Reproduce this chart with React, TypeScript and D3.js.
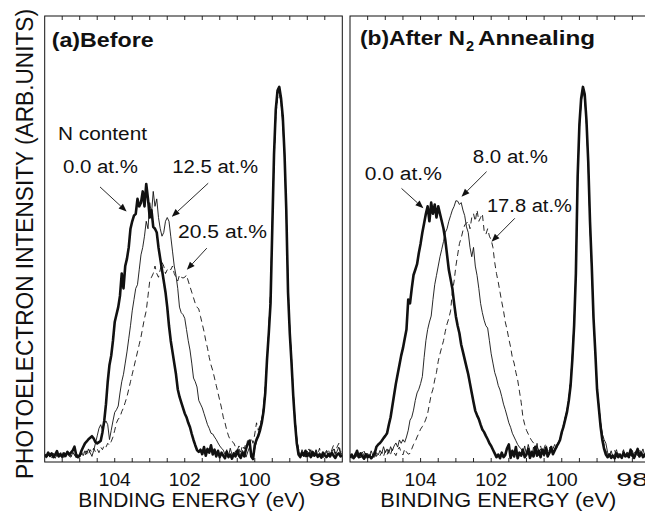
import React from 'react';
import * as d3 from 'd3';

// ---------- DATA ----------
// binding energy grid (eV), 0.05 eV steps from 106 to 97.5
const ENERGY: number[] = d3.range(171).map((i) => +(106 - 0.05 * i).toFixed(2));

// (a) Before — intensities (arb. units)
const A_N00 = [
  1.5,1.0,2.0,1.2,1.8,0.8,1.5,2.4,1.0,1.6,
  0.9,1.8,1.2,2.2,1.5,2.0,2.6,3.6,1.4,0.8,
  1.2,2.5,3.5,4.5,5.0,5.6,6.0,6.4,5.8,4.8,
  4.5,4.8,5.2,7.5,10.5,15,21,25.5,28,32,
  37,39,41,44,50,46,52,54,57,62,
  64,65.5,66,70,68,69,72,68,74,70,
  65,67,62.5,62,61,57,54,51,48,45,
  41,36,32,29,26,23,19,17,15.5,14,
  12.5,11.5,10,8.8,7,5.4,4,2.7,2.2,2.8,
  1.6,3.5,1.2,3.0,2.0,4.0,1.5,2.8,1.0,2.5,
  0.8,2.0,1.2,0.5,2.2,0.8,1.5,0.4,1.8,1.0,
  2.5,1.2,0.6,2.0,1.0,3.0,4.5,5.2,1.0,0.3,
  4.0,5.5,6.5,8,10,13,18,27,34,42,
  62,82,94,99,100,97,92,82,67,45,
  34,26,17,10,4.5,1.5,0.8,2.0,1.2,2.5,
  1.0,1.8,0.8,2.2,1.2,1.8,0.9,1.5,0.7,2.0,
  1.3,0.8,1.6,1.0,2.0,1.2,0.6,1.5,1.8,1.0,
  1.4,
];
const A_N125 = [
  1.0,0.6,1.4,0.8,1.8,1.0,0.5,1.5,0.9,2.0,
  1.2,0.7,1.6,2.4,1.0,0.8,2.0,1.4,0.6,1.5,
  1.0,1.8,1.2,2.5,1.6,3.0,2.0,1.0,2.6,4.5,
  6.5,8.5,9.5,8.0,9.8,10.5,9.5,5.5,8.0,10.5,
  12.8,13.5,14.5,18,21,23,26,29,32.5,36,
  40,43,46,47,51,55,57,60,64,62,
  69,66,72,68,70,65,62,60,61,64,
  65,64,60,56,52,49.5,46,41,39.5,39,
  38,35,32,29.5,26,22,21,19.6,16,15,
  14,12.5,11,9.5,8.5,7.2,7.0,6.2,5.5,4.6,
  3.8,3.2,2.7,1.5,2.8,1.0,3.2,1.5,0.8,2.5,
  1.4,3.0,1.0,2.6,1.8,0.8,2.2,3.5,2.0,1.2,
  3.0,5.0,7.0,9,11,14,19,26,35,44,
  63,81,93,98,99,96,90,81,66,46,
  35,27,18,11,5.5,2.5,1.2,2.8,1.5,0.8,
  2.4,1.2,2.8,1.0,1.8,2.6,1.0,2.0,1.4,0.6,
  1.8,2.6,1.0,1.5,2.2,3.0,1.5,2.4,3.5,1.6,
  2.0,
];
const A_N205 = [
  1.2,0.8,1.5,1.0,0.6,1.8,1.2,0.9,1.6,1.0,
  2.0,1.4,0.7,1.2,1.8,1.0,2.2,1.5,0.8,1.3,
  1.0,1.6,2.0,1.2,2.5,1.5,2.8,2.0,3.2,2.2,
  3.0,2.0,3.5,2.8,4.0,3.5,4.5,4.0,5.0,6.2,
  8.0,10,11,11.5,13,14,15.5,17,19,21,
  23,25,27,29,31,33,35.5,38,40,44,
  48,49,50,52,50,49,51,53,52,50,
  51,51.5,51,52,50,49,48,49.6,49,48.8,
  49,49.6,48,46.5,45,43.5,42,41,40.5,38.5,
  36.5,34.5,32,30,27.5,25.5,24,22,20,18,
  16,14,11.5,10,8,6.5,5.4,5.0,4.6,3.5,
  2.7,3.8,2.2,4.0,3.0,4.8,5.2,3.5,6.0,4.5,
  7.0,10,8.0,9.5,11,14,20,27,35,45,
  62,80,92,97,98,96,91,82,67,47,
  35,27,18,11,6,3,2,1.2,2.5,1.0,
  2.0,3.0,1.4,2.2,1.0,2.8,1.6,3.2,1.0,2.4,
  1.5,2.0,3.0,1.2,2.8,4.0,1.8,3.5,4.5,2.0,
  3.0,
];

// (b) After N2 annealing
const B_N00 = [
  0.8,1.5,0.5,1.2,2.5,0.8,1.8,1.0,0.4,1.6,
  0.8,1.2,0.5,1.0,1.8,3.6,4.2,4.6,5.2,5.9,
  6.5,7.2,9.5,11.5,14.5,17.5,20.5,23,25.5,28,
  30,32.5,35,43,42,46,49.6,51,52.5,55.5,
  58,61,63.5,66,68,64,69,66,68.5,65,
  68,66,64,62,59,55,51,48.5,46,42,
  38.5,36,34,31,29,27,25,23,20.5,18,
  15.5,13.2,12,11,9.5,8.2,7.5,6.5,5.6,4.5,
  3.8,2.8,1.8,0.8,1.5,0.5,2.0,0.8,1.4,3.2,
  4.2,0.6,2.5,1.0,3.5,0.5,2.0,1.2,2.8,0.8,
  1.5,3.0,0.6,2.2,1.0,3.6,1.2,2.5,0.8,2.8,
  1.5,3.2,1.0,2.0,3.5,1.6,2.6,3.6,4.4,5.4,
  7.5,9,11,13,16,20,27,36,50,76,
  90,97,100,98,91,80,64,52,38,29,
  19,14,9,5.4,3,1.5,0.8,1.5,0.6,1.2,
  0.5,1.8,0.8,1.4,0.6,2.0,1.0,1.6,0.8,2.8,
  1.2,0.6,1.8,3.0,1.0,2.0,0.8,1.5,0.6,1.2,
  0.8,
];
const B_N80 = [
  0.5,1.2,0.8,2.0,1.0,0.6,1.5,2.2,1.0,0.5,
  1.8,1.0,2.5,1.2,0.8,2.0,1.4,2.6,1.8,3.6,
  2.0,3.0,1.8,3.6,2.5,3.8,4.6,3.5,5.4,4.5,
  5.5,4.8,6.2,8.0,10.7,11.5,13.4,16,18,19,
  20.5,22.4,27.5,32,35,37,38.6,43,47,49.5,
  52,54.5,56.5,58.6,61,62,64,65.5,67,68,
  69.5,69.4,68.5,69,67,65.5,62.5,61,57,54.5,
  57,52,49.5,46,42,39.5,37.5,36,35.4,32,
  28.5,26,23.5,22,20,18.8,17,15,13.5,11.8,
  10,8.8,7.2,6.2,5.2,4.2,3.5,3.0,2.0,3.8,
  1.5,4.2,2.4,1.0,3.5,2.0,4.5,1.2,3.0,2.2,
  1.0,3.6,2.0,1.4,3.2,2.0,3.0,4.0,4.8,5.6,
  7.0,9.5,11.5,13.5,16.5,21,28,37,50,75,
  89,96,99,97,90,79,63,51,38,29,
  19.5,14.5,10,7,5.5,4.5,2.0,1.2,2.5,0.8,
  1.6,2.8,1.0,1.8,0.6,2.2,1.4,0.8,2.0,1.2,
  2.6,1.0,1.6,2.4,0.8,1.8,3.0,1.2,2.0,1.0,
  1.5,
];
const B_N178 = [
  1.0,0.5,1.8,0.8,1.2,2.0,0.6,1.4,2.4,1.0,
  1.6,0.8,2.0,1.2,2.8,1.0,1.8,1.2,2.2,1.0,
  2.5,1.4,2.8,1.6,3.0,2.0,1.2,2.6,3.5,2.0,
  1.4,3.0,2.2,1.6,1.8,3.0,4.2,5.0,6.2,7.2,
  8.3,9.0,9.8,11,12.5,15,17.5,19,21.5,23.5,
  26.5,28.5,30.3,32,34.5,36.5,38,40,45,48,
  52,55,58,59.5,61.5,63,63.5,64,62,65,
  66,64,67,64,65,66,61.5,60.5,62,60,
  59,57,53,50,47.7,45,42.4,40,37,35,
  32.5,30.3,27.5,26,23.5,21.5,18.5,15.5,11.5,9.5,
  8,7.0,6.0,5.2,4.6,4.0,3.6,2.5,3.8,2.0,
  3.2,4.5,2.5,3.6,2.0,3.0,4.2,3.0,4.6,5.8,
  7.2,9.5,11.5,13.5,16.5,21,28,37,50,75,
  89,96,99,97,90,79,63,51,38,29,
  19.5,14.5,10,6.5,4.0,2.5,1.5,2.2,1.0,1.8,
  2.6,1.2,2.0,0.8,1.6,2.8,1.0,2.2,1.4,2.8,
  1.0,1.8,2.5,1.2,3.0,1.6,2.2,1.0,2.4,1.5,
  2.0,
];

const X_TICK_LABELS = [104, 102, 100, 98];
const X_MINOR_TICKS = d3.range(16).map((i) => 105.5 - 0.5 * i);
const SERIES_LABELS_A = ['0.0 at.%', '12.5 at.%', '20.5 at.%'];
const SERIES_LABELS_B = ['0.0 at.%', '8.0 at.%', '17.8 at.%'];
const Y_TITLE = 'PHOTOELECTRON INTENSITY (ARB.UNITS)';
const X_TITLE = 'BINDING ENERGY (eV)';

// ---------- LAYOUT ----------
const W = 645;
const H = 513;
const TOP = 16;
const BOTTOM = 462;
const FONT = "'Liberation Sans', Arial, Helvetica, sans-serif";
const INK = '#111';

const yScale = d3.scaleLinear().domain([-0.5, 119]).range([BOTTOM, TOP]);

const STYLES = [
  { width: 2.6, dash: null as string | null },
  { width: 0.9, dash: null as string | null },
  { width: 0.9, dash: '6,4' },
];

type Ann = { text: string; tx: number; ty: number; w: number; from?: [number, number]; to?: [number, number] };

function arrowPath(x1: number, y1: number, x2: number, y2: number) {
  const dx = x2 - x1, dy = y2 - y1;
  const L = Math.hypot(dx, dy);
  const ux = dx / L, uy = dy / L;
  const hl = 8, hw = 3.2;
  const bx = x2 - ux * hl, by = y2 - uy * hl;
  return {
    line: `M${x1},${y1}L${bx},${by}`,
    head: `M${x2},${y2}L${bx - uy * hw},${by + ux * hw}L${bx + uy * hw},${by - ux * hw}Z`,
  };
}

function Panel(props: {
  id: string;
  left: number;
  right: number;
  series: number[][];
  anns: Ann[];
  title: React.ReactNode;
  xTitleW: number;
}) {
  const { id, left, right, series, anns, title, xTitleW } = props;
  const x = d3.scaleLinear().domain([106, 97.5]).range([left, right]);
  const line = d3
    .line<number>()
    .x((_, i) => x(ENERGY[i]))
    .y((d) => yScale(d));
  return (
    <g>
      <defs>
        <clipPath id={`clip-${id}`}>
          <rect x={left} y={TOP} width={right - left} height={BOTTOM - TOP} />
        </clipPath>
      </defs>
      <g clipPath={`url(#clip-${id})`}>
        {series.map((s, k) => (
          <path
            key={k}
            d={line(s.slice(0, ENERGY.length)) || ''}
            fill="none"
            stroke={INK}
            strokeWidth={STYLES[k].width}
            strokeDasharray={STYLES[k].dash || undefined}
            strokeLinejoin="round"
          />
        ))}
      </g>
      {X_MINOR_TICKS.map((t) => (
        <g key={t}>
          <line x1={x(t)} x2={x(t)} y1={TOP} y2={TOP + 4} stroke={INK} strokeWidth={0.9} />
          <line x1={x(t)} x2={x(t)} y1={BOTTOM} y2={BOTTOM - 4} stroke={INK} strokeWidth={0.9} />
        </g>
      ))}
      <rect x={left} y={TOP} width={right - left} height={BOTTOM - TOP} fill="none" stroke={INK} strokeWidth={1} />
      {X_TICK_LABELS.map((t) => (
        <text key={t} x={x(t)} y={485.5} textAnchor="middle" fontSize={18.5} fontFamily={FONT} fill={INK}
          textLength={32} lengthAdjust="spacingAndGlyphs">
          {t}
        </text>
      ))}
      <text x={x(101.8)} y={507} textAnchor="middle" fontSize={20} fontFamily={FONT} fill={INK}
        textLength={xTitleW} lengthAdjust="spacingAndGlyphs">
        {X_TITLE}
      </text>
      {title}
      {anns.map((a, k) => {
        const arr = a.from && a.to ? arrowPath(x(a.from[0]), yScale(a.from[1]), x(a.to[0]), yScale(a.to[1])) : null;
        return (
          <g key={k}>
            <text x={x(a.tx)} y={yScale(a.ty)} fontSize={18} fontFamily={FONT} fill={INK}
              textLength={a.w} lengthAdjust="spacingAndGlyphs">
              {a.text}
            </text>
            {arr && (
              <g>
                <path d={arr.line} stroke={INK} strokeWidth={0.9} fill="none" />
                <path d={arr.head} fill={INK} stroke="none" />
              </g>
            )}
          </g>
        );
      })}
    </g>
  );
}

export default function App() {
  const annsA: Ann[] = [
    { text: 'N content', tx: 105.62, ty: 85.8, w: 89 },
    { text: SERIES_LABELS_A[0], tx: 105.48, ty: 76.9, w: 75, from: [104.42, 73.2], to: [103.66, 66.6] },
    { text: SERIES_LABELS_A[1], tx: 102.36, ty: 76.9, w: 86, from: [101.33, 74.2], to: [102.37, 65.2] },
    { text: SERIES_LABELS_A[2], tx: 102.19, ty: 59.5, w: 89, from: [101.37, 56.8], to: [101.94, 51.0] },
  ];
  const annsB: Ann[] = [
    { text: SERIES_LABELS_B[0], tx: 105.58, ty: 75.1, w: 77, from: [104.54, 72.8], to: [103.92, 67.5] },
    { text: SERIES_LABELS_B[1], tx: 102.52, ty: 79.6, w: 75, from: [102.13, 77.3], to: [102.84, 70.6] },
    { text: SERIES_LABELS_B[2], tx: 102.12, ty: 66.6, w: 85, from: [101.33, 64.8], to: [101.99, 58.5] },
  ];
  const titleA = (
    <text x={51.7} y={47} fontSize={20} fontWeight="bold" fontFamily={FONT} fill={INK}
      textLength={102} lengthAdjust="spacingAndGlyphs">
      (a)Before
    </text>
  );
  const titleB = (
    <g>
      <text x={360} y={45} fontSize={20} fontWeight="bold" fontFamily={FONT} fill={INK}
        textLength={105} lengthAdjust="spacingAndGlyphs">
        (b)After N
      </text>
      <text x={466} y={51} fontSize={14.5} fontWeight="bold" fontFamily={FONT} fill={INK}>
        2
      </text>
      <text x={478} y={45} fontSize={20} fontWeight="bold" fontFamily={FONT} fill={INK}
        textLength={117} lengthAdjust="spacingAndGlyphs">
        Annealing
      </text>
    </g>
  );
  return (
    <div style={{ position: 'fixed', left: 0, top: 0, width: W, height: H, background: '#fff' }}>
      <svg width={W} height={H} viewBox={`0 0 ${W} ${H}`} style={{ display: 'block' }}>
        <rect x={0} y={0} width={W} height={H} fill="#fff" />
        <text transform="translate(32.5,244) rotate(-90)" textAnchor="middle" fontSize={23} fontFamily={FONT}
          fill={INK} textLength={470} lengthAdjust="spacingAndGlyphs">
          {Y_TITLE}
        </text>
        <Panel id="a" left={44.7} right={342.3} series={[A_N00, A_N125, A_N205]} anns={annsA} title={titleA} xTitleW={227} />
        <Panel id="b" left={350} right={650} series={[B_N00, B_N80, B_N178]} anns={annsB} title={titleB} xTitleW={236} />
      </svg>
    </div>
  );
}
